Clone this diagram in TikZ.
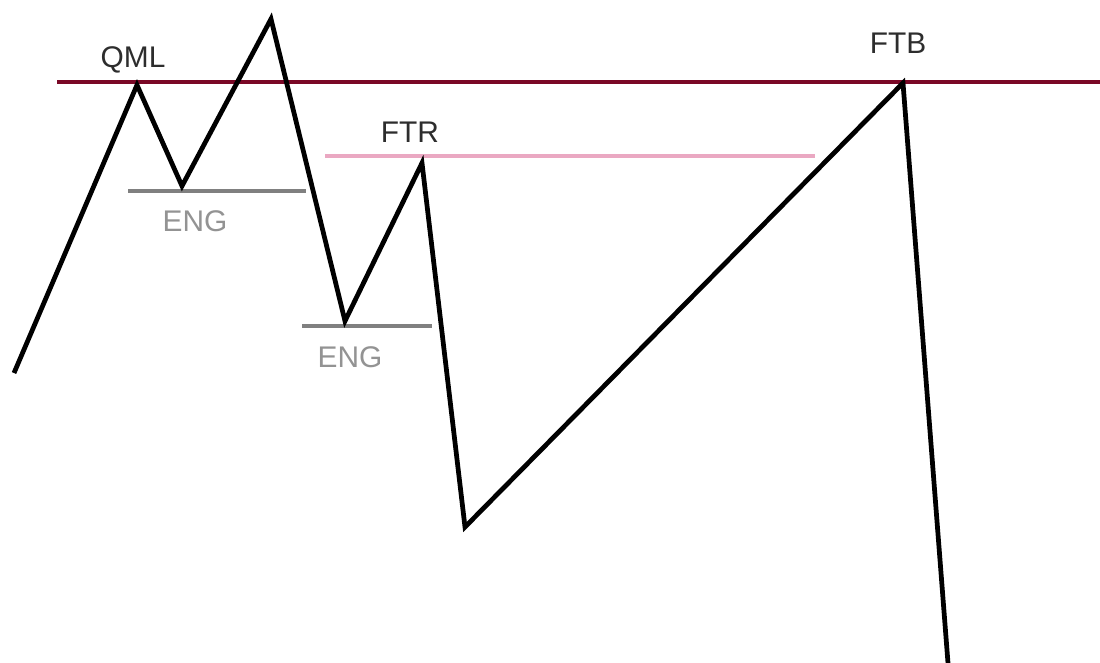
\documentclass[tikz,border=0pt]{standalone}
\usepackage{fontspec}
\setmainfont{Liberation Sans}
\usetikzlibrary{positioning}
\definecolor{QMLRed}{RGB}{122,8,38}
\definecolor{FTRPink}{RGB}{234,168,194}
\definecolor{ENGGray}{RGB}{128,128,128}
\definecolor{TxtDark}{RGB}{45,45,45}

\begin{document}
\begin{tikzpicture}[x=0.02cm, y=-0.02cm,
          leg/.style={line width=2.7pt, black, line join=miter},
          lvl/.style={line width=2.4pt},
          lbl/.style={font=\fontsize{17}{20}\selectfont, inner sep=0pt, anchor=base}
        ]
        \useasboundingbox (0,0) rectangle (1100,663);

        % swing points
        \coordinate (start) at (14,373);
        \coordinate (qml)   at (137,85);
        \coordinate (eng1)  at (182,186);
        \coordinate (high)  at (271,19);
        \coordinate (eng2)  at (345,321);
        \coordinate (ftr)   at (422,163);
        \coordinate (low)   at (465,527);
        \coordinate (ftb)   at (903,83);
        \coordinate (stop)  at (948,663);

        % levels
        \coordinate (redL) at (57,82);   \coordinate (redR) at (1100,82);
        \coordinate (pinkL) at (325,156); \coordinate (pinkR) at (815,156);
        \coordinate (g1L) at (128,191);  \coordinate (g1R) at (306,191);
        \coordinate (g2L) at (302,326);  \coordinate (g2R) at (432,326);

        \draw[lvl, FTRPink] (pinkL) -- (pinkR);
        \draw[lvl, ENGGray] (g1L) -- (g1R);
        \draw[lvl, ENGGray] (g2L) -- (g2R);
        \draw[lvl, QMLRed, line width=2.8pt] (redL) -- (redR);

        \draw[leg] (start) -- (qml) -- (eng1) -- (high) -- (eng2)
              -- (ftr) -- (low) -- (ftb) -- (stop);

        \node[lbl, TxtDark] (tqml) at (133,67) {QML};
        \node[lbl, TxtDark] (tftr) at (410,142) {FTR};
        \node[lbl, TxtDark] (tftb) at (898,53) {FTB};
        \node[lbl, ENGGray!85] (teng1) at (195,231) {ENG};
        \node[lbl, ENGGray!85] (teng2) at (350,367) {ENG};
      \end{tikzpicture}
\end{document}
